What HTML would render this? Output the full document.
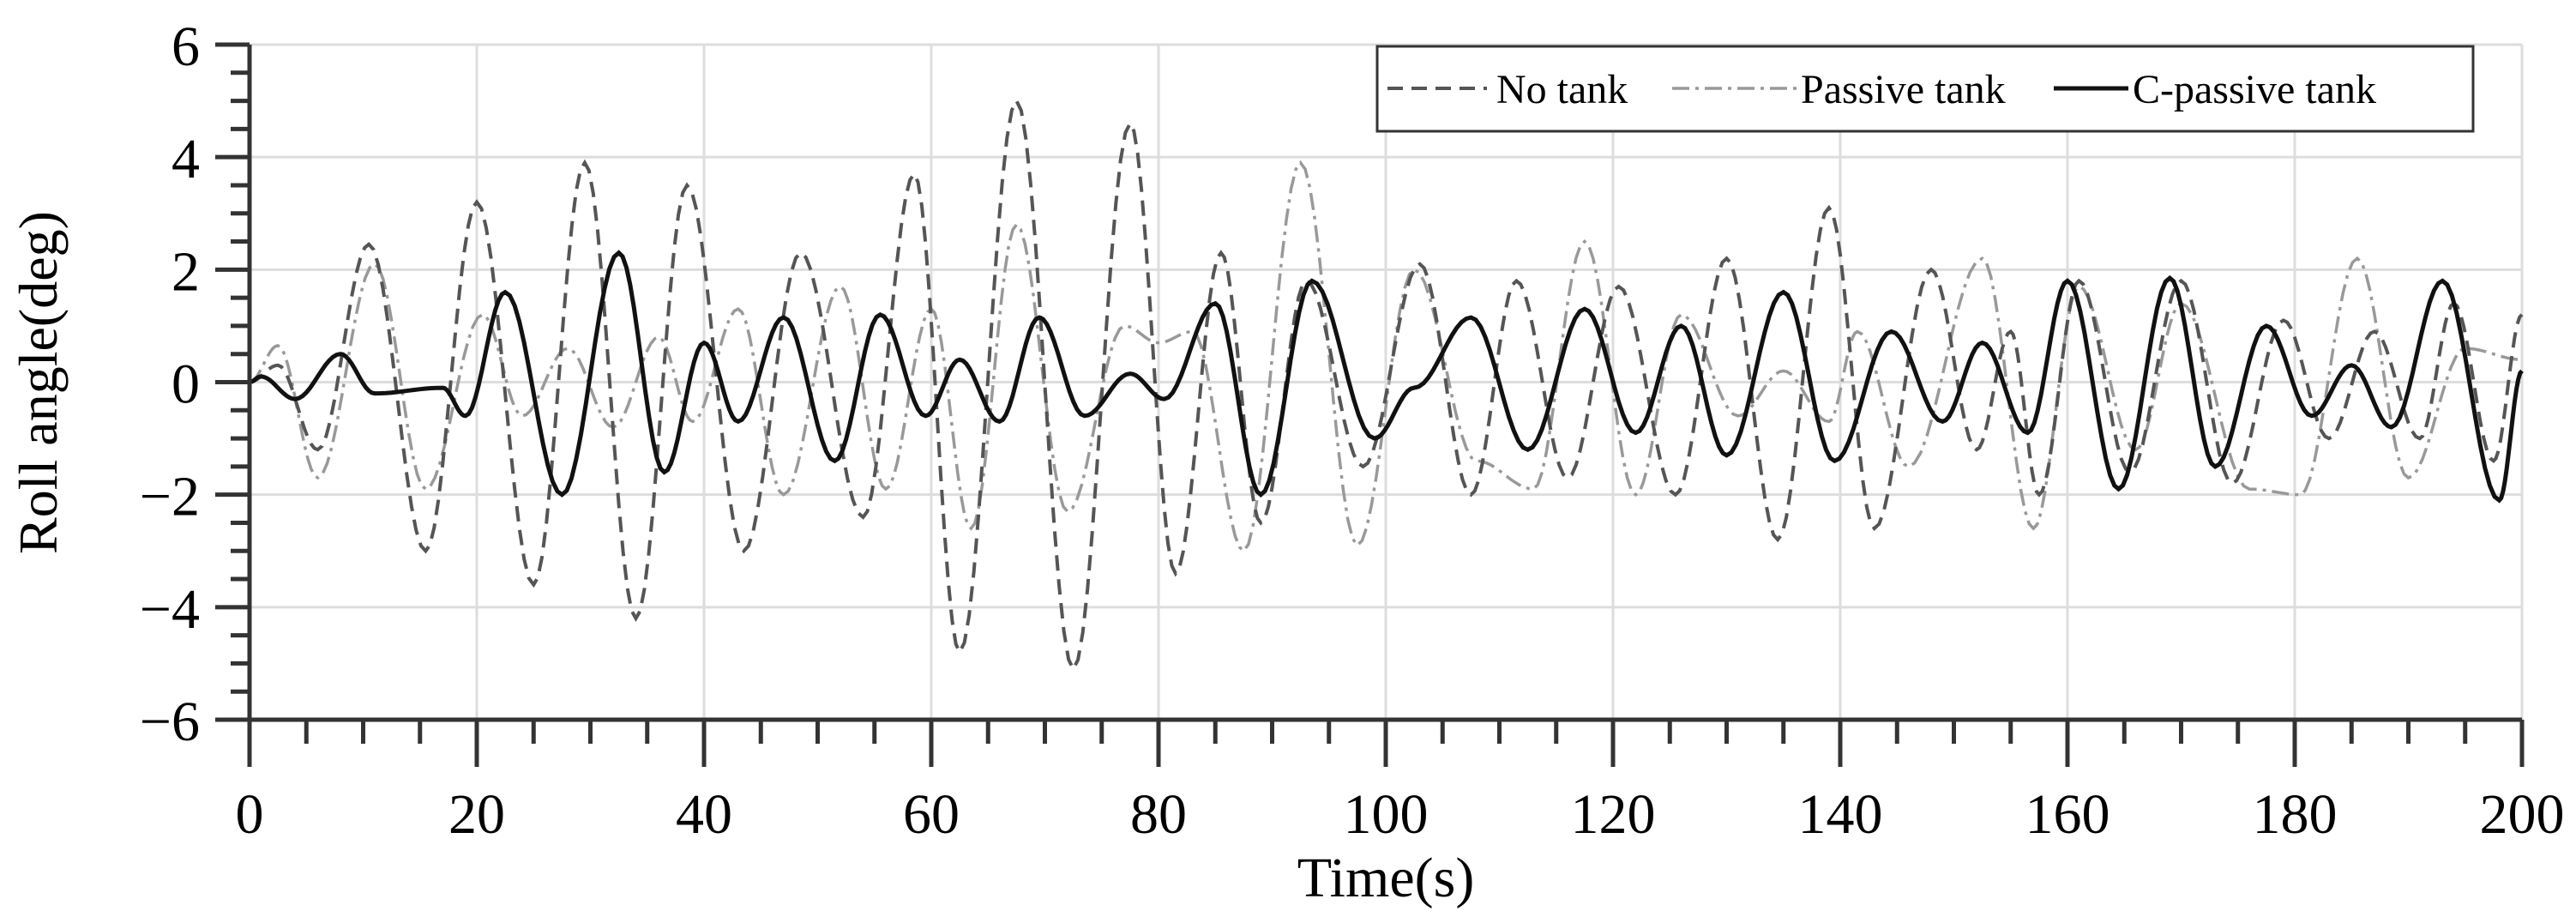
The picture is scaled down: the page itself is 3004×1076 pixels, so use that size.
<!DOCTYPE html>
<html><head><meta charset="utf-8"><style>
html,body{margin:0;padding:0;background:#fff;}
svg{display:block;font-family:"Liberation Serif",serif;}
</style></head><body>
<svg id="chart" width="3004" height="1076" viewBox="0 0 3004 1076">
<g id="grid"></g>
<g id="series"></g>
<g id="axes"></g>
<text x="1616" y="1045" font-size="66" text-anchor="middle">Time(s)</text>
<text transform="translate(66,446) rotate(-90)" font-size="64" text-anchor="middle">Roll angle(deg)</text>
<g>
<rect x="1606" y="54" width="1278" height="99" fill="#fff" stroke="#333" stroke-width="3"/>
<g>
<line x1="1618" y1="103" x2="1734" y2="103" stroke="#555" stroke-width="4" stroke-dasharray="18,10"/>
<text x="1745" y="120" font-size="48">No tank</text></g>
<g>
<line x1="1950" y1="103" x2="2098" y2="103" stroke="#999" stroke-width="3.5" stroke-dasharray="20,7,4,7"/>
<text x="2100" y="120" font-size="48">Passive tank</text></g>
<g>
<line x1="2395" y1="103" x2="2482" y2="103" stroke="#111" stroke-width="5"/>
<text x="2487" y="120" font-size="48">C-passive tank</text></g>
</g>
</svg>
<script>
const xTicks=[0,20,40,60,80,100,120,140,160,180,200];
const yTicks=[-6,-4,-2,0,2,4,6];
const noTankT=[0,2.5,6,10.5,15.5,20,25,29.5,34,38.5,43.5,48.5,54,58.5,62.5,67.5,72.5,77.5,81.5,85.5,89,93,98,103,107.5,111.5,116,120.5,125.5,130,134.5,139,143,148,152,155,157.5,161,165.5,170,174.5,179,183,187,191,194,197.5,200];
const noTankV=[0,0.3,-1.2,2.45,-3.0,3.2,-3.6,3.9,-4.2,3.5,-3.0,2.3,-2.4,3.7,-4.8,5.0,-5.1,4.6,-3.4,2.3,-2.5,1.8,-1.5,2.1,-2.0,1.8,-1.7,1.7,-2.0,2.2,-2.8,3.1,-2.6,2.0,-1.2,0.9,-2.0,1.8,-1.6,1.8,-1.8,1.1,-1.0,0.9,-1.0,1.4,-1.4,1.2];
const passiveT=[0,2.5,6,11,15.5,20.5,24,28,32,36,39,43,47,52,56,60,63.5,67.5,72,77,80,83,87.5,92.5,97.5,102.5,108,113,117.5,122,126,131,135,139,141.5,146,152.5,157,161,166,170,176,180.5,185.5,190,195,200];
const passiveV=[0,0.65,-1.7,2.1,-1.9,1.2,-0.6,0.6,-0.8,0.8,-0.7,1.3,-2.0,1.7,-1.9,1.3,-2.6,2.8,-2.3,1.0,0.7,0.9,-3.0,3.9,-2.9,2.0,-1.4,-1.9,2.5,-2.0,1.2,-0.6,0.2,-0.7,0.9,-1.5,2.2,-2.6,1.7,-1.2,1.4,-1.9,-2.0,2.2,-1.7,0.6,0.4];
const cPassiveT=[0,1,4,8,11,17,19,22.5,27.5,32.5,36.5,40,43,47,51.5,55.5,59.5,62.5,66,69.5,73.5,77.5,80.5,85,89,93.5,99,102.5,107.5,112.5,117.5,122,126,130,135,139.5,144.5,149,152.5,156.5,160,164.5,169,173,177.5,181.5,185,188.5,193,198,200];
const cPassiveV=[0,0.1,-0.3,0.5,-0.2,-0.1,-0.6,1.6,-2.0,2.3,-1.6,0.7,-0.7,1.15,-1.4,1.2,-0.6,0.4,-0.7,1.15,-0.6,0.15,-0.3,1.4,-2.0,1.8,-1.0,-0.1,1.15,-1.2,1.3,-0.9,1.0,-1.3,1.6,-1.4,0.9,-0.7,0.7,-0.9,1.8,-1.9,1.85,-1.5,1.0,-0.6,0.3,-0.8,1.8,-2.1,0.2];

const L=291,R=2941,T=52,B=839;
const xs=t=>L+(t-0)/(200-0)*(R-L);
const ys=v=>B-(v+6)/12*(B-T);
const NS='http://www.w3.org/2000/svg';
function mk(tag,attrs,parent){const e=document.createElementNS(NS,tag);for(const k in attrs)e.setAttribute(k,attrs[k]);parent.appendChild(e);return e;}
const grid=document.getElementById('grid'),axes=document.getElementById('axes'),series=document.getElementById('series');
xTicks.forEach(t=>{const l=mk('line',{x1:xs(t),x2:xs(t),y1:T,y2:B,stroke:'#ddd','stroke-width':3},grid);


const tk=mk('line',{x1:xs(t),x2:xs(t),y1:B,y2:B+55,stroke:'#333','stroke-width':5},axes);


const tx=mk('text',{x:xs(t),y:B+132,'font-size':66,'text-anchor':'middle'},axes);tx.textContent=t;

});
for(let t=5;t<200;t+=5){if(t%20===0)continue;const tk=mk('line',{x1:xs(t),x2:xs(t),y1:B,y2:B+28,stroke:'#333','stroke-width':5},axes);

}
yTicks.forEach(v=>{const l=mk('line',{x1:L,x2:R,y1:ys(v),y2:ys(v),stroke:'#ddd','stroke-width':3},grid);


const tk=mk('line',{x1:L-40,x2:L,y1:ys(v),y2:ys(v),stroke:'#333','stroke-width':5},axes);


const tx=mk('text',{x:L-58,y:ys(v)+24,'font-size':66,'text-anchor':'end'},axes);tx.textContent=v<0?'\u2212'+(-v):v;

});
for(let v=-5.5;v<6;v+=0.5){if(Math.abs(v%2)<1e-9)continue;const tk=mk('line',{x1:L-22,x2:L,y1:ys(v),y2:ys(v),stroke:'#333','stroke-width':5},axes);

}
const ax=mk('path',{d:`M${L},${T}V${B}H${R}`,fill:'none',stroke:'#333','stroke-width':5},axes);


function curve(T_,V_){let d='';for(let i=0;i<T_.length-1;i++){const t0=T_[i],t1=T_[i+1],v0=V_[i],v1=V_[i+1];
for(let k=0;k<=12;k++){if(i>0&&k===0)continue;const f=k/12;const t=t0+(t1-t0)*f;const v=v0+(v1-v0)*(1-Math.cos(Math.PI*f))/2;
d+=(d?'L':'M')+xs(t).toFixed(1)+','+ys(v).toFixed(1);}}return d;}
const p1=mk('path',{d:curve(passiveT,passiveV),fill:'none',stroke:'#999','stroke-width':3.5,'stroke-dasharray':'20,7,4,7'},series);


const p2=mk('path',{d:curve(noTankT,noTankV),fill:'none',stroke:'#555','stroke-width':4,'stroke-dasharray':'18,10'},series);


const p3=mk('path',{d:curve(cPassiveT,cPassiveV),fill:'none',stroke:'#111','stroke-width':5},series);


</script>
</body></html>
